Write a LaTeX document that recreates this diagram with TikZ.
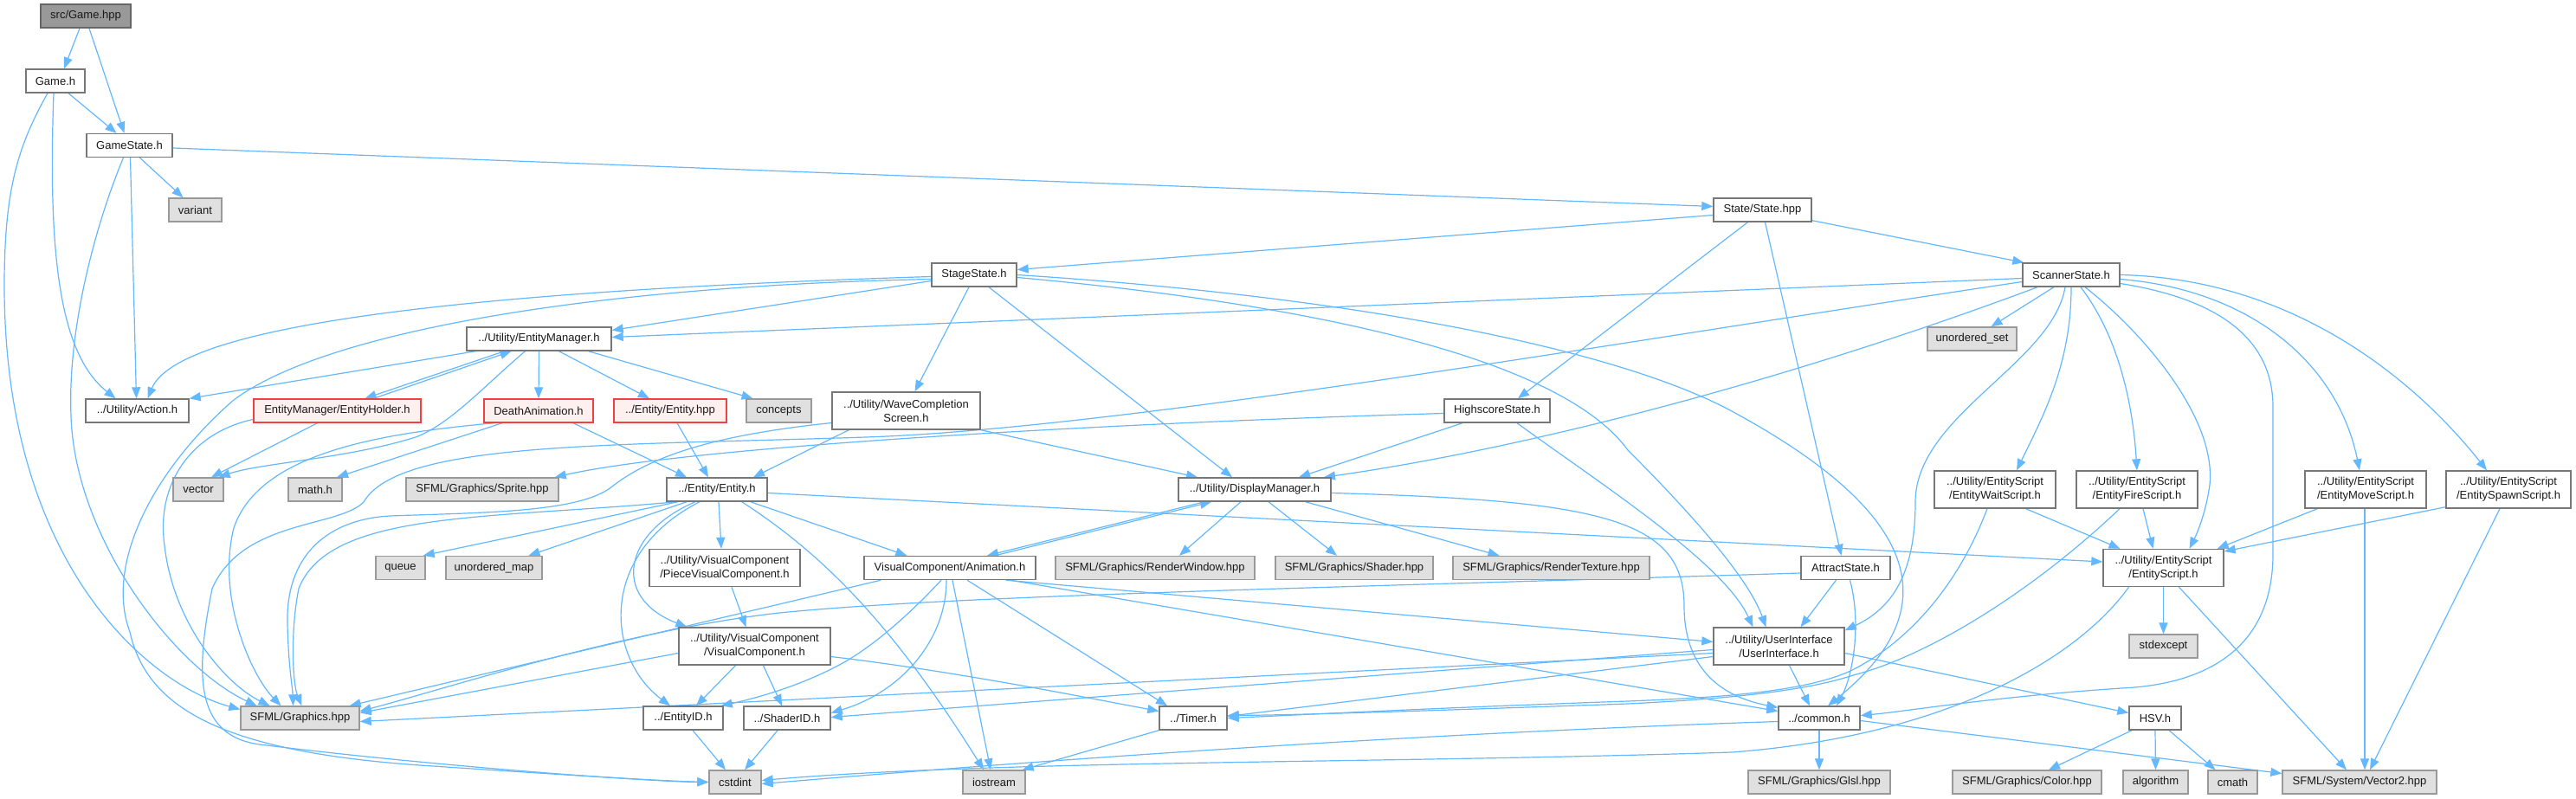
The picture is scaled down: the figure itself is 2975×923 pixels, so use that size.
\documentclass[tikz,border=0pt]{standalone}
\usepackage{fontspec}
\setmainfont{Liberation Sans}
\usetikzlibrary{arrows.meta,calc}
\pgfdeclarelayer{canvasfill}
\pgfdeclarelayer{bg}
\pgfsetlayers{canvasfill,bg,main}
\definecolor{edgec}{HTML}{63B8FF}
\definecolor{wborder}{HTML}{777777}
\definecolor{gfill}{HTML}{E0E0E0}
\definecolor{gborder}{HTML}{999999}
\definecolor{rfill}{HTML}{FFF0F0}
\definecolor{rborder}{HTML}{F04040}
\definecolor{rootfill}{HTML}{999999}
\definecolor{rootborder}{HTML}{666666}
\begin{document}
\begin{tikzpicture}[x=1pt,y=-1pt,
  nd/.style={draw=wborder, fill=white, line width=1.4pt, inner sep=0pt, minimum height=27pt,
    font=\fontsize{13}{16}\selectfont, align=center, anchor=center, text=black!90},
  gr/.style={nd, fill=gfill, draw=gborder},
  rd/.style={nd, fill=rfill, draw=rborder},
  rootnd/.style={nd, fill=rootfill, draw=rootborder},
  tall/.style={minimum height=43pt},
  e/.style={draw=edgec, line width=1.2pt, -{Triangle[length=13pt,width=10pt]}}
]
\useasboundingbox (0,0) rectangle (2975,923);
\begin{pgfonlayer}{canvasfill}
\fill[white] (0,0) rectangle (2975,923);
\end{pgfonlayer}

% ---------------- nodes ----------------
\node[rootnd, minimum width=104] (root) at (99,18.5) {src/Game.hpp};
\node[nd, minimum width=68] (gameh) at (64,93.5) {Game.h};
\node[nd, minimum width=99] (gamestate) at (149.5,168) {GameState.h};
\node[gr, minimum width=61] (variant) at (225.5,242.5) {variant};
\node[nd, minimum width=113] (statehpp) at (2035.5,242.5) {State/State.hpp};
\node[nd, minimum width=98] (stage) at (1125,317.5) {StageState.h};
\node[nd, minimum width=112] (scanner) at (2392,317.5) {ScannerState.h};
\node[nd, minimum width=167] (emgr) at (622.5,391.5) {../Utility/EntityManager.h};
\node[gr, minimum width=103] (uset) at (2277.5,391.5) {unordered\_set};
\node[nd, minimum width=119] (action) at (158.5,474.5) {../Utility/Action.h};
\node[rd, minimum width=193] (holder) at (389.5,474.5) {EntityManager/EntityHolder.h};
\node[rd, minimum width=126] (death) at (622,474.5) {DeathAnimation.h};
\node[rd, minimum width=130] (entityhpp) at (774,474.5) {../Entity/Entity.hpp};
\node[gr, minimum width=75] (concepts) at (899.5,474.5) {concepts};
\node[nd, tall, minimum width=171] (wave) at (1046.5,474.5) {../Utility/WaveCompletion\\Screen.h};
\node[nd, minimum width=122] (highscore) at (1729,474.5) {HighscoreState.h};
\node[nd, tall, minimum width=140] (wait) at (2304,565.5) {../Utility/EntityScript\\/EntityWaitScript.h};
\node[nd, tall, minimum width=140] (fire) at (2468,565.5) {../Utility/EntityScript\\/EntityFireScript.h};
\node[nd, tall, minimum width=140] (move) at (2732,565.5) {../Utility/EntityScript\\/EntityMoveScript.h};
\node[nd, tall, minimum width=144] (spawn) at (2897,565.5) {../Utility/EntityScript\\/EntitySpawnScript.h};
\node[gr, minimum width=58] (vector) at (229,565.5) {vector};
\node[gr, minimum width=62] (mathh) at (364,565.5) {math.h};
\node[gr, minimum width=176] (sprite) at (557,565.5) {SFML/Graphics/Sprite.hpp};
\node[nd, minimum width=116] (entityh) at (828,565.5) {../Entity/Entity.h};
\node[nd, minimum width=176] (display) at (1449,565.5) {../Utility/DisplayManager.h};
\node[gr, minimum width=57] (queue) at (462.5,656) {queue};
\node[gr, minimum width=111] (umap) at (570.5,656) {unordered\_map};
\node[nd, tall, minimum width=174] (piece) at (837,656) {../Utility/VisualComponent\\/PieceVisualComponent.h};
\node[nd, minimum width=198] (anim) at (1097,656) {VisualComponent/Animation.h};
\node[gr, minimum width=230] (renderwin) at (1334,656) {SFML/Graphics/RenderWindow.hpp};
\node[gr, minimum width=182] (shader) at (1564,656) {SFML/Graphics/Shader.hpp};
\node[gr, minimum width=227] (rendertex) at (1791.5,656) {SFML/Graphics/RenderTexture.hpp};
\node[nd, tall, minimum width=139] (escript) at (2498.5,656) {../Utility/EntityScript\\/EntityScript.h};
\node[nd, minimum width=103] (attract) at (2131.5,656) {AttractState.h};
\node[nd, tall, minimum width=175] (visual) at (871.5,746.5) {../Utility/VisualComponent\\/VisualComponent.h};
\node[nd, tall, minimum width=151] (ui) at (2054.5,746.5) {../Utility/UserInterface\\/UserInterface.h};
\node[gr, minimum width=79] (stdexcept) at (2498.5,746.5) {stdexcept};
\node[gr, minimum width=137] (sfmlg) at (346.5,829.5) {SFML/Graphics.hpp};
\node[nd, minimum width=92] (entityid) at (789,829.5) {../EntityID.h};
\node[nd, minimum width=100] (shaderid) at (909,829.5) {../ShaderID.h};
\node[nd, minimum width=78] (timer) at (1378,829.5) {../Timer.h};
\node[nd, minimum width=94] (common) at (2101,829.5) {../common.h};
\node[nd, minimum width=60] (hsv) at (2489,829.5) {HSV.h};
\node[gr, minimum width=60] (cstdint) at (849,903.5) {cstdint};
\node[gr, minimum width=72] (iostream) at (1148,903.5) {iostream};
\node[gr, minimum width=164] (glsl) at (2101,903.5) {SFML/Graphics/Glsl.hpp};
\node[gr, minimum width=172] (color) at (2341,903.5) {SFML/Graphics/Color.hpp};
\node[gr, minimum width=75] (algorithm) at (2489.5,903.5) {algorithm};
\node[gr, minimum width=57] (cmath) at (2578.5,903.5) {cmath};
\node[gr, minimum width=178] (vector2) at (2725,903.5) {SFML/System/Vector2.hpp};

% ---------------- edges ----------------
\begin{pgfonlayer}{bg}
% top
\draw[e] ($(root.south)+(-7,0)$) -- ($(gameh.north)+(10,0)$);
\draw[e] ($(root.south)+(4,0)$) -- ($(gamestate.north)+(-6,0)$);
\draw[e] ($(gameh.south)+(15,0)$) -- ($(gamestate.north)+(-15,0)$);
\draw[e] ($(gameh.south)+(-2,0)$) .. controls (55,300) and (70,410) .. ($(action.north)+(-25,0)$);
\draw[e] ($(gameh.south)+(-9,0)$) .. controls (20,170) and (5,220) .. (5,330) .. controls (5,650) and (170,790) .. ($(sfmlg.west)+(0,-10)$);
\draw[e] ($(gamestate.south)+(12,0)$) -- ($(variant.north)+(-14,0)$);
\draw[e] ($(gamestate.east)+(0,3)$) -- ($(statehpp.west)+(0,-4)$);
\draw[e] ($(gamestate.south)+(1,0)$) -- ($(action.north)+(-1,0)$);
\draw[e] ($(gamestate.south)+(-7,0)$) .. controls (110,260) and (78,380) .. (82,480) .. controls (86,620) and (200,770) .. ($(sfmlg.north)+(-50,0)$);
% State.hpp
\draw[e] ($(statehpp.west)+(0,6)$) -- ($(stage.east)+(0,-6)$);
\draw[e] ($(statehpp.south east)+(0,-2)$) -- ($(scanner.north west)+(2,0)$);
\draw[e] ($(statehpp.south)+(-17,0)$) -- ($(highscore.north)+(24,0)$);
\draw[e] ($(statehpp.south)+(3,0)$) -- ($(attract.north)+(-5,0)$);
% StageState
\draw[e] ($(stage.west)+(0,2)$) .. controls (420,340) and (200,390) .. ($(action.north)+(12,0)$);
\draw[e] ($(stage.west)+(0,7)$) -- ($(emgr.east)+(0,-10)$);
\draw[e] ($(stage.west)+(0,5)$) .. controls (700,330) and (380,380) .. (270,462) .. controls (180,540) and (120,650) .. (150,730) .. controls (170,820) and (260,870) .. (500,885) .. controls (650,895) and (760,902) .. (cstdint.west);
\draw[e] ($(stage.south)+(-6,0)$) -- ($(wave.north)+(10,0)$);
\draw[e] ($(stage.south)+(17,0)$) -- ($(display.north)+(-26,0)$);
\draw[e] (stage.east) .. controls (1600,345) and (1880,410) .. (2000,475) .. controls (2250,610) and (2230,720) .. ($(common.north)+(10,0)$);
\draw[e] ($(stage.east)+(0,3)$) .. controls (1500,350) and (1800,410) .. (1880,520) .. controls (1960,600) and (2020,670) .. ($(ui.north)+(-15,0)$);
% ScannerState
\draw[e] ($(scanner.west)+(0,4)$) -- ($(emgr.east)+(0,-2)$);
\draw[e] ($(scanner.south)+(-39,0)$) .. controls (2050,445) and (1750,520) .. ($(display.north)+(80,0)$);
\draw[e] ($(scanner.south)+(-20,0)$) -- ($(uset.north)+(22,0)$);
\draw[e] ($(scanner.south)+(-7,0)$) .. controls (2370,420) and (2212,480) .. (2212,580) .. controls (2212,670) and (2180,705) .. ($(ui.north east)+(0,4)$);
\draw[e] (scanner.south) .. controls (2392,420) and (2360,480) .. ($(wait.north)+(25,0)$);
\draw[e] ($(scanner.south)+(11,0)$) .. controls (2440,380) and (2462,450) .. (fire.north);
\draw[e] ($(scanner.south)+(16,0)$) .. controls (2470,380) and (2560,480) .. (2552,560) .. controls (2548,590) and (2538,615) .. ($(escript.north)+(30,0)$);
\draw[e] ($(scanner.east)+(0,5)$) .. controls (2600,335) and (2700,420) .. ($(move.north)+(-7,0)$);
\draw[e] (scanner.east) .. controls (2650,322) and (2790,440) .. ($(spawn.north)+(-25,0)$);
\draw[e] ($(scanner.east)+(0,10)$) .. controls (2560,345) and (2625,390) .. (2625,470) -- (2625,640) .. controls (2625,740) and (2560,790) .. (2450,795) .. controls (2300,805) and (2200,822) .. ($(common.east)+(0,-3)$);
\draw[e] ($(scanner.west)+(0,8)$) .. controls (1900,390) and (1300,495) .. (1000,505) .. controls (700,515) and (460,510) .. (420,580) .. controls (390,610) and (280,600) .. (245,680) .. controls (225,780) and (225,850) .. (300,860) .. controls (500,885) and (750,903) .. (cstdint.west);
% HighscoreState
\draw[e] ($(highscore.south)+(-40,0)$) -- ($(display.north)+(51,0)$);
\draw[e] ($(highscore.south)+(23,0)$) .. controls (1850,560) and (1990,650) .. ($(ui.north)+(-30,0)$);
\draw[e] ($(highscore.west)+(0,3)$) .. controls (1300,488) and (800,515) .. ($(sprite.north east)+(-5,0)$);
% WaveCompletion
\draw[e] ($(wave.south west)+(20,0)$) -- ($(entityh.north)+(42,0)$);
\draw[e] (wave.south east) -- ($(display.north)+(-66,0)$);
\draw[e] ($(wave.west)+(0,14)$) .. controls (850,500) and (760,520) .. (707,562) .. controls (670,592) and (560,592) .. (450,596) .. controls (380,600) and (330,640) .. (332,720) .. controls (333,770) and (338,795) .. ($(sfmlg.north)+(-8,0)$);
% EntityManager
\draw[e] ($(emgr.south west)+(11,0)$) -- (action.north east);
\draw[e] ($(emgr.south)+(-40,0)$) -- ($(holder.north)+(32,0)$);
\draw[e] ($(holder.north)+(42,0)$) -- ($(emgr.south)+(-32,0)$);
\draw[e] (emgr.south) -- (death.north);
\draw[e] ($(emgr.south)+(23,0)$) -- ($(entityhpp.north)+(-24,0)$);
\draw[e] ($(emgr.south)+(57,0)$) -- ($(concepts.north)+(-30,0)$);
\draw[e] ($(emgr.south)+(-16,0)$) .. controls (560,445) and (520,490) .. (480,505) .. controls (400,530) and (300,535) .. ($(vector.north east)+(-6,0)$);
% EntityHolder
\draw[e] ($(holder.south)+(-23,0)$) -- ($(vector.north)+(15,0)$);
\draw[e] ($(holder.west)+(0,10)$) .. controls (220,500) and (180,560) .. (190,630) .. controls (200,720) and (260,790) .. ($(sfmlg.north)+(-35,0)$);
% DeathAnimation
\draw[e] ($(death.south)+(40,0)$) -- ($(entityh.north)+(-35,0)$);
\draw[e] ($(death.south)+(-42,0)$) -- ($(mathh.north)+(25,0)$);
\draw[e] ($(death.south west)+(12,0)$) .. controls (450,500) and (300,520) .. (270,610) .. controls (250,690) and (290,780) .. ($(sfmlg.north)+(-22,0)$);
% Entity.hpp
\draw[e] ($(entityhpp.south)+(8,0)$) -- ($(entityh.north)+(-10,0)$);
% Entity.h
\draw[e] ($(entityh.south)+(-45,0)$) -- ($(queue.north east)+(-3,0)$);
\draw[e] ($(entityh.south)+(-35,0)$) -- ($(umap.north)+(40,0)$);
\draw[e] ($(entityh.south)+(2,0)$) -- ($(piece.north)+(-4,0)$);
\draw[e] ($(entityh.south)+(-25,0)$) .. controls (720,615) and (705,690) .. ($(visual.north west)+(10,0)$);
\draw[e] ($(entityh.south)+(-20,0)$) .. controls (690,640) and (700,760) .. ($(entityid.north)+(-15,0)$);
\draw[e] ($(entityh.south east)+(-20,0)$) -- ($(anim.north west)+(50,0)$);
\draw[e] ($(entityh.south east)+(-30,0)$) .. controls (950,640) and (1030,720) .. ($(iostream.north)+(-12,0)$);
\draw[e] ($(entityh.east)+(0,4)$) -- ($(escript.west)+(0,-7)$);
\draw[e] ($(entityh.south west)+(12,0)$) .. controls (560,600) and (380,590) .. (345,680) .. controls (335,730) and (338,790) .. ($(sfmlg.north)+(2,0)$);
% PieceVisualComponent
\draw[e] ($(piece.south)+(8,0)$) -- ($(visual.north)+(-10,0)$);
% VisualComponent
\draw[e] ($(visual.south)+(-22,0)$) -- ($(entityid.north)+(15,0)$);
\draw[e] ($(visual.south)+(10,0)$) -- ($(shaderid.north)+(-6,0)$);
\draw[e] ($(visual.east)+(0,12)$) .. controls (1100,775) and (1250,805) .. ($(timer.west)+(0,-8)$);
\draw[e] ($(visual.west)+(0,8)$) -- ($(sfmlg.east)+(0,-6)$);
% IDs
\draw[e] ($(entityid.south)+(11,0)$) -- ($(cstdint.north)+(-11,0)$);
\draw[e] ($(shaderid.south)+(-11,0)$) -- ($(cstdint.north)+(11,0)$);
% DisplayManager / Animation
\draw[e] ($(anim.north)+(52,0)$) -- ($(display.south)+(-50,0)$);
\draw[e] ($(display.south)+(-58,0)$) -- ($(anim.north)+(43,0)$);
\draw[e] ($(display.south)+(-16,0)$) -- ($(renderwin.north)+(28,0)$);
\draw[e] ($(display.south)+(16,0)$) -- ($(shader.north)+(-20,0)$);
\draw[e] ($(display.south east)+(-30,0)$) -- ($(rendertex.north)+(-60,0)$);
\draw[e] ($(display.east)+(0,4)$) .. controls (1850,578) and (1945,600) .. (1945,700) .. controls (1945,775) and (1990,805) .. ($(common.north west)+(0,2)$);
\draw[e] ($(anim.south west)+(20,0)$) -- ($(sfmlg.north east)+(-12,0)$);
\draw[e] ($(anim.south)+(-10,0)$) .. controls (1050,710) and (1010,745) .. (975,765) .. controls (930,790) and (880,805) .. ($(entityid.north east)+(-3,0)$);
\draw[e] ($(anim.south)+(-4,0)$) .. controls (1093,740) and (1040,800) .. ($(shaderid.east)+(0,-6)$);
\draw[e] ($(anim.south)+(3,0)$) -- ($(iostream.north)+(-4,0)$);
\draw[e] ($(anim.south)+(20,0)$) -- ($(timer.north)+(-30,0)$);
\draw[e] ($(anim.south east)+(-35,0)$) -- ($(ui.west)+(0,-5)$);
\draw[e] ($(anim.south east)+(-30,0)$) -- ($(common.west)+(0,-8)$);
% UserInterface
\draw[e] ($(ui.west)+(0,8)$) -- ($(sfmlg.east)+(0,4)$);
\draw[e] ($(ui.west)+(0,12)$) -- ($(timer.east)+(0,-2)$);
\draw[e] ($(ui.west)+(0,4)$) -- ($(shaderid.east)+(0,-1)$);
\draw[e] ($(ui.south)+(12,0)$) -- ($(common.north)+(-11,0)$);
\draw[e] ($(ui.east)+(0,8)$) -- ($(hsv.west)+(0,-6)$);
% AttractState
\draw[e] ($(attract.south)+(-11,0)$) -- ($(ui.north)+(25,0)$);
\draw[e] ($(attract.south)+(5,0)$) .. controls (2150,720) and (2140,780) .. ($(common.north)+(20,0)$);
\draw[e] ($(attract.west)+(0,6)$) .. controls (1500,680) and (1100,688) .. (900,708) .. controls (720,728) and (500,800) .. ($(sfmlg.east)+(0,-8)$);
% scripts
\draw[e] ($(wait.south east)+(-35,0)$) -- ($(escript.north)+(-50,0)$);
\draw[e] ($(wait.south)+(-9,0)$) .. controls (2260,680) and (2200,745) .. (2135,776) .. controls (2080,800) and (1980,806) .. (1880,810) .. controls (1650,818) and (1500,826) .. (timer.east);
\draw[e] ($(fire.south)+(7,0)$) -- ($(escript.north)+(-12,0)$);
\draw[e] ($(fire.south)+(-20,0)$) .. controls (2340,690) and (2220,760) .. (2140,780) .. controls (2080,800) and (1980,808) .. (1880,813) .. controls (1650,821) and (1500,826) .. ($(timer.east)+(0,-3)$);
\draw[e] ($(move.south west)+(15,0)$) -- ($(escript.north east)+(-8,0)$);
\draw[e] ($(move.south)+(-1,0)$) -- ($(vector2.north)+(6,0)$);
\draw[e] ($(spawn.south west)+(0,-2)$) -- ($(escript.east)+(0,-19)$);
\draw[e] ($(spawn.south)+(-10,0)$) -- ($(vector2.north)+(12,0)$);
\draw[e] (escript.south) -- (stdexcept.north);
\draw[e] ($(escript.south)+(18,0)$) -- ($(vector2.north)+(-15,0)$);
\draw[e] ($(escript.south)+(-40,0)$) .. controls (2400,760) and (2250,850) .. (2000,869) .. controls (1600,882) and (1150,878) .. ($(cstdint.east)+(0,-2)$);
% common / HSV / Timer
\draw[e] ($(common.west)+(0,4)$) .. controls (1700,845) and (1300,870) .. ($(cstdint.east)+(0,2)$);
\draw[e] (common.south) -- (glsl.north);
\draw[e] ($(common.east)+(0,3)$) -- ($(vector2.west)+(0,-10)$);
\draw[e] ($(hsv.south)+(-27,0)$) -- ($(color.north)+(25,0)$);
\draw[e] (hsv.south) -- (algorithm.north);
\draw[e] ($(hsv.south)+(16,0)$) -- ($(cmath.north)+(-20,0)$);
\draw[e] (timer.south west) -- ($(iostream.north east)+(-4,0)$);
\end{pgfonlayer}
\end{tikzpicture}
\end{document}
